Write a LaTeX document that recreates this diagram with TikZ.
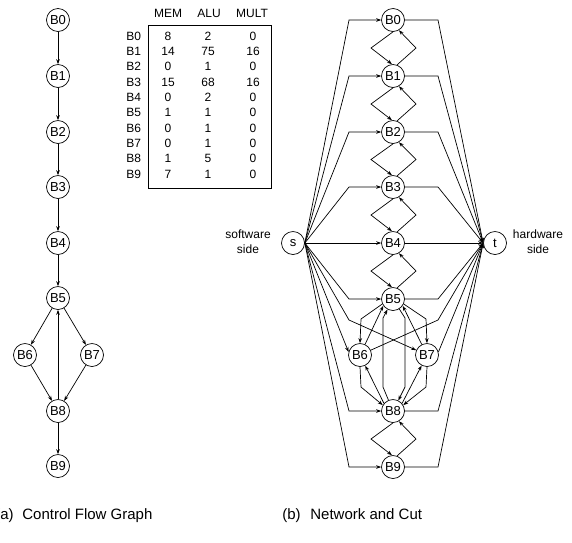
\documentclass[tikz,border=0pt]{standalone}
\usepackage{fontspec}
\setmainfont{Liberation Sans}
\usetikzlibrary{arrows.meta}
\begin{document}
\begin{tikzpicture}[x=1pt,y=-1pt,line width=0.7pt,
  blk/.style={circle,draw,minimum size=23pt,inner sep=0pt,font=\fontsize{13}{15}\selectfont},
  arr/.style={-{Stealth[length=5pt,width=3.6pt]}},
  txt/.style={inner sep=0pt,font=\fontsize{12}{15}\selectfont},
  captxt/.style={inner sep=0pt,font=\fontsize{15}{18}\selectfont}]
\useasboundingbox (0,0) rectangle (572,542);

% ---------- (a) control flow graph ----------
\node[blk] (a0) at (58,20) {B0};
\node[blk] (a1) at (58,76) {B1};
\node[blk] (a2) at (58,132) {B2};
\node[blk] (a3) at (58,187) {B3};
\node[blk] (a4) at (58,243) {B4};
\node[blk] (a5) at (58,298) {B5};
\node[blk] (a6) at (25,355) {B6};
\node[blk] (a7) at (92,355) {B7};
\node[blk] (a8) at (58,411) {B8};
\node[blk] (a9) at (58,466) {B9};
\foreach \u/\v in {a0/a1,a1/a2,a2/a3,a3/a4,a4/a5,a5/a6,a5/a7,a6/a8,a7/a8,a8/a5,a8/a9}
  \draw[arr] (\u) -- (\v);

% ---------- table ----------
\node[txt] (hm) at (168,13) {MEM};
\node[txt] (ha) at (209,13) {ALU};
\node[txt] (hu) at (252,13) {MULT};
\draw (148,25) rectangle (271,188);
\foreach \i/\m/\a/\u in {0/8/2/0,1/14/75/16,2/0/1/0,3/15/68/16,4/0/2/0,5/1/1/0,6/0/1/0,7/0/1/0,8/1/5/0,9/7/1/0}{
  \node[txt,anchor=west] (r\i) at (126,{36+15.33*\i}) {B\i};
  \node[txt] (m\i) at (168,{36+15.33*\i}) {\m};
  \node[txt] (l\i) at (208,{36+15.33*\i}) {\a};
  \node[txt] (u\i) at (253,{36+15.33*\i}) {\u};
}

% ---------- (b) network ----------
\node[blk] (b0) at (393,20) {B0};
\node[blk] (b1) at (393,76) {B1};
\node[blk] (b2) at (393,132) {B2};
\node[blk] (b3) at (393,187) {B3};
\node[blk] (b4) at (393,243) {B4};
\node[blk] (b5) at (393,299) {B5};
\node[blk] (b6) at (360,355) {B6};
\node[blk] (b7) at (427,355) {B7};
\node[blk] (b8) at (393,411) {B8};
\node[blk] (b9) at (393,467) {B9};
\node[blk] (s) at (293,243) {s};
\node[blk] (t) at (495,243) {t};
\node[txt,align=center] (sw) at (248,242) {software\\side};
\node[txt,align=center] (hw) at (538,242) {hardware\\side};

% diamonds between consecutive blocks
\foreach \u/\v/\m in {b0/b1/48,b1/b2/104,b2/b3/159.5,b3/b4/215,b4/b5/271,b8/b9/439}{
  \draw[arr] (\u.-90) -- (371,\m) -- (\v.95);
  \draw[arr] (\v.70) -- (416,\m) -- (\u.-60);
}

% source / sink edges
\foreach \n/\y in {b0/20,b1/76,b2/132,b3/187,b5/299,b8/411,b9/467}{
  \draw[arr] (s.east) -- (349,\y) -- (\n);
  \draw[arr] (\n) -- (438,\y) -- (t.west);
}
\draw[arr] (s.east) -- (b4);
\draw[arr] (b4) -- (t.west);
\draw[arr] (s.east) -- (b6.165);
\draw[arr] (b6) -- (438,320) -- (t.west);
\draw[arr] (s.east) -- (349,320) -- (b7);
\draw[arr] (b7.15) -- (t.west);

% pairs around B5, B6, B7, B8
\draw[arr] (b5.205) -- (361,319) -- (b6.north);
\draw[arr] (b6) -- (b5.215);
\draw[arr] (b5.-25) -- (426,319) -- (b7.north);
\draw[arr] (b7) -- (b5.-35);
\draw[arr] (b6.south) -- (361,387) -- (b8.150);
\draw[arr] (b8.140) -- (b6);
\draw[arr] (b7.south) -- (426,387) -- (b8.30);
\draw[arr] (b8.40) -- (b7);
\draw[arr] (b8) -- (383,387) -- (383,318) -- (b5);
\draw[arr] (b5) -- (405,318) -- (405,387) -- (b8);

% captions
\node[captxt,anchor=base east] (capa) at (14,519) {(a)};
\node[captxt,anchor=base west] (capat) at (22,519) {Control Flow Graph};
\node[captxt,anchor=base west] (capb) at (282,519) {(b)};
\node[captxt,anchor=base west] (capbt) at (310,519) {Network and Cut};
\end{tikzpicture}
\end{document}
